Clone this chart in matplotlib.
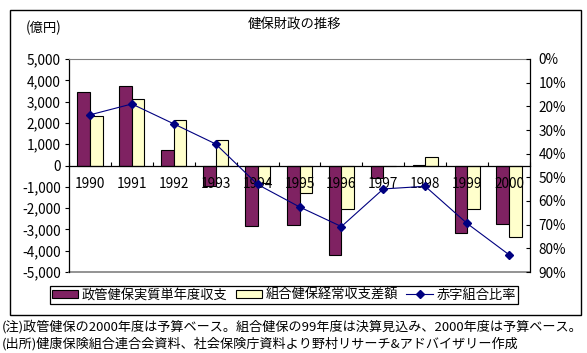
import matplotlib
matplotlib.use("Agg")
import matplotlib.pyplot as plt
from matplotlib.patches import Rectangle
from matplotlib.ticker import FuncFormatter, FixedLocator
import numpy as np

plt.rcParams['font.family'] = ['Noto Sans CJK JP', 'DejaVu Sans']

years = ['1990', '1991', '1992', '1993', '1994', '1995', '1996', '1997', '1998', '1999', '2000']
seikan = [3450, 3730, 750, -950, -2860, -2800, -4220, -580, 40, -3190, -2730]
kumiai = [2310, 3110, 2120, 1180, -810, -1280, -2020, -30, 390, -2060, -3380]
deficit_ratio = [0.236, 0.190, 0.274, 0.359, 0.530, 0.625, 0.708, 0.549, 0.538, 0.695, 0.827]

left_ticks = [5000, 4000, 3000, 2000, 1000, 0, -1000, -2000, -3000, -4000, -5000]
right_ticks = [0, 0.1, 0.2, 0.3, 0.4, 0.5, 0.6, 0.7, 0.8, 0.9]

title = '健保財政の推移'
unit = '(億円)'
legend_labels = ['政管健保実質単年度収支', '組合健保経常収支差額', '赤字組合比率']
note1 = '(注)政管健保の2000年度は予算ベース。組合健保の99年度は決算見込み、2000年度は予算ベース。'
note2 = '(出所)健康保険組合連合会資料、社会保険庁資料より野村リサーチ&アドバイザリー作成'

purple = '#7F2262'
yellow = '#FFFFCC'
navy = '#000080'

W, H = 587, 353
fig = plt.figure(figsize=(W / 100, H / 100), dpi=100)

def fx(px):
    return px / W

def fy(py):
    return 1 - py / H

# outer frame
fig.patches.append(Rectangle((fx(10), fy(315)), fx(581) - fx(10), fy(10) - fy(315),
                             transform=fig.transFigure, fill=False, edgecolor='black', lw=1.0))

ax = fig.add_axes([fx(69), fy(272), fx(530) - fx(69), fy(59) - fy(272)])
x = np.arange(len(years))
bw = 0.3
ax.bar(x - bw / 2, seikan, width=bw, color=purple, edgecolor='black', lw=0.8, label=legend_labels[0])
ax.bar(x + bw / 2, kumiai, width=bw, color=yellow, edgecolor='black', lw=0.8, label=legend_labels[1])
ax.set_xlim(-0.5, len(years) - 0.5)
ax.set_ylim(-5000, 5000)
ax.set_yticks(left_ticks)
ax.yaxis.set_major_formatter(FuncFormatter(lambda v, p: f'{int(v):,}'))
ax.tick_params(axis='y', direction='out', length=3, width=0.8, labelsize=9.8, pad=3)

ax.spines['bottom'].set_position(('data', 0))
ax.spines['bottom'].set_linewidth(0.9)
ax.spines['top'].set_color('#808080')
ax.spines['left'].set_linewidth(0.9)
ax.spines['right'].set_visible(False)
ax.axhline(-5000, color='#808080', lw=1.2, clip_on=False)

ax.xaxis.set_major_locator(FixedLocator(np.arange(-0.5, len(years), 1.0)))
ax.xaxis.set_minor_locator(FixedLocator(x))
ax.tick_params(axis='x', which='major', direction='in', length=3, width=0.8, labelbottom=False)
ax.tick_params(axis='x', which='minor', length=0, labelsize=9.8, pad=8)
ax.set_xticks(x, minor=True)
ax.set_xticklabels(years, minor=True)

ax2 = ax.twinx()
ax2.plot(x, deficit_ratio, color=navy, lw=0.8, marker='D', markersize=4, label=legend_labels[2])
ax2.set_ylim(0.9, 0)
ax2.set_yticks(right_ticks)
ax2.yaxis.set_major_formatter(FuncFormatter(lambda v, p: f'{v * 100:.0f}%'))
ax2.tick_params(axis='y', direction='in', length=3, width=0.8, labelsize=9.8, pad=6)
for s in ['top', 'bottom', 'left']:
    ax2.spines[s].set_visible(False)
ax2.spines['right'].set_linewidth(0.9)

fig.text(fx(295), fy(25), title, ha='center', va='center', fontsize=9.6)
fig.text(fx(44), fy(28), unit, ha='center', va='center', fontsize=9.6)

h1, l1 = ax.get_legend_handles_labels()
h2, l2 = ax2.get_legend_handles_labels()
leg = fig.legend(h1 + h2, l1 + l2, loc='center', bbox_to_anchor=(fx(284), fy(295)), ncol=3,
                 fontsize=9.5, frameon=True, fancybox=False, edgecolor='black', framealpha=1,
                 handlelength=2.0, handleheight=0.5, handletextpad=0.3, columnspacing=0.6,
                 borderpad=0.15, borderaxespad=0)
leg.get_frame().set_linewidth(0.9)

fig.text(fx(2), fy(327), note1, ha='left', va='center', fontsize=9.45)
fig.text(fx(2), fy(344), note2, ha='left', va='center', fontsize=9.45)

fig.savefig('out.png', dpi=100)
